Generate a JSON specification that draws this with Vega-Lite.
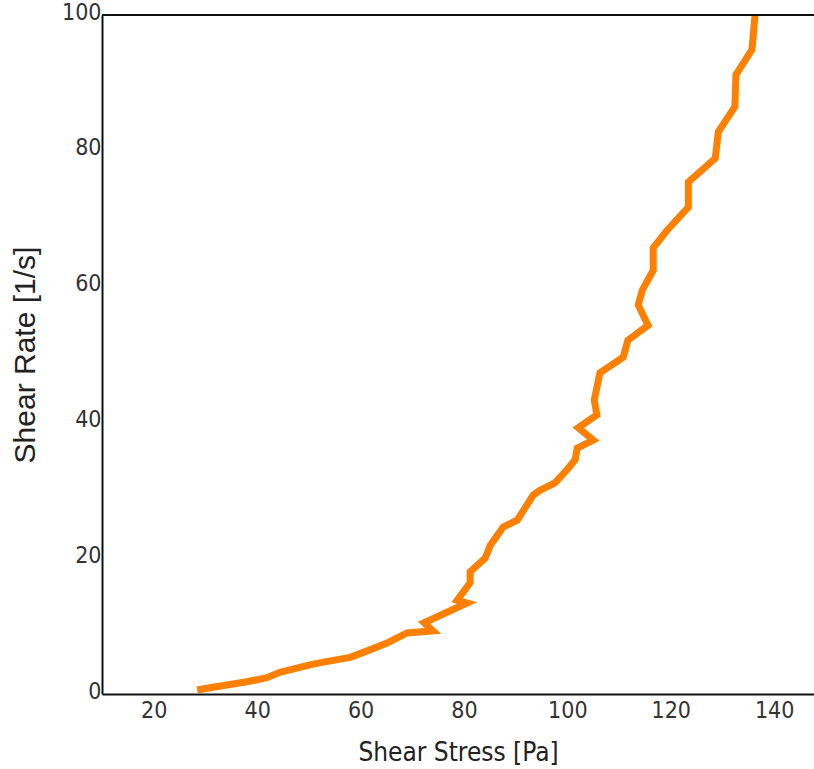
{
  "$schema": "https://vega.github.io/schema/vega-lite/v6.json",
  "autosize": "none",
  "width": 712,
  "height": 679,
  "padding": {"left": 102, "top": 15, "right": 0, "bottom": 75},
  "background": "white",
  "config": {"view": {"stroke": null}},
  "data": {"values": [
    {"i": 1, "stress": 28.4, "rate": 0.6},
    {"i": 2, "stress": 31.5, "rate": 1.0},
    {"i": 3, "stress": 38.0, "rate": 1.8},
    {"i": 4, "stress": 41.9, "rate": 2.4},
    {"i": 5, "stress": 44.4, "rate": 3.2},
    {"i": 6, "stress": 50.2, "rate": 4.3},
    {"i": 7, "stress": 52.8, "rate": 4.7},
    {"i": 8, "stress": 58.0, "rate": 5.4},
    {"i": 9, "stress": 61.8, "rate": 6.5},
    {"i": 10, "stress": 65.1, "rate": 7.5},
    {"i": 11, "stress": 69.0, "rate": 9.0},
    {"i": 12, "stress": 74.0, "rate": 9.3},
    {"i": 13, "stress": 72.3, "rate": 10.5},
    {"i": 14, "stress": 80.6, "rate": 13.4},
    {"i": 15, "stress": 78.7, "rate": 13.8},
    {"i": 16, "stress": 81.2, "rate": 16.4},
    {"i": 17, "stress": 81.2, "rate": 18.0},
    {"i": 18, "stress": 84.1, "rate": 20.0},
    {"i": 19, "stress": 85.1, "rate": 21.9},
    {"i": 20, "stress": 87.6, "rate": 24.6},
    {"i": 21, "stress": 90.3, "rate": 25.6},
    {"i": 22, "stress": 93.4, "rate": 29.3},
    {"i": 23, "stress": 94.7, "rate": 30.0},
    {"i": 24, "stress": 97.6, "rate": 31.1},
    {"i": 25, "stress": 99.9, "rate": 33.0},
    {"i": 26, "stress": 101.5, "rate": 34.5},
    {"i": 27, "stress": 101.9, "rate": 36.2},
    {"i": 28, "stress": 105.0, "rate": 37.4},
    {"i": 29, "stress": 102.1, "rate": 39.2},
    {"i": 30, "stress": 105.7, "rate": 41.1},
    {"i": 31, "stress": 105.2, "rate": 43.3},
    {"i": 32, "stress": 106.3, "rate": 47.3},
    {"i": 33, "stress": 110.8, "rate": 49.6},
    {"i": 34, "stress": 111.7, "rate": 52.1},
    {"i": 35, "stress": 115.6, "rate": 54.3},
    {"i": 36, "stress": 113.7, "rate": 57.3},
    {"i": 37, "stress": 114.5, "rate": 59.5},
    {"i": 38, "stress": 116.6, "rate": 62.4},
    {"i": 39, "stress": 116.6, "rate": 65.7},
    {"i": 40, "stress": 119.3, "rate": 68.3},
    {"i": 41, "stress": 123.4, "rate": 71.7},
    {"i": 42, "stress": 123.4, "rate": 75.4},
    {"i": 43, "stress": 128.6, "rate": 78.9},
    {"i": 44, "stress": 129.2, "rate": 82.8},
    {"i": 45, "stress": 132.4, "rate": 86.5},
    {"i": 46, "stress": 132.6, "rate": 91.2},
    {"i": 47, "stress": 135.7, "rate": 94.9},
    {"i": 48, "stress": 136.3, "rate": 100.0}
  ]},
  "layer": [
    {
      "mark": {"type": "line", "color": "#ff8000", "strokeWidth": 7, "clip": true},
      "encoding": {
        "x": {
          "field": "stress", "type": "quantitative",
          "scale": {"domain": [10, 147.7], "nice": false, "zero": false},
          "axis": {
            "title": "Shear Stress [Pa]",
            "values": [20, 40, 60, 80, 100, 120, 140],
            "grid": false, "ticks": false, "labelFlush": false,
            "domainColor": "#111", "domainWidth": 2,
            "labelFont": "Liberation Sans Narrow, DejaVu Sans Condensed, sans-serif",
            "labelFontSize": 23, "labelColor": "#333", "labelPadding": 5,
            "titleFont": "Liberation Sans Narrow, DejaVu Sans Condensed, sans-serif",
            "titleFontSize": 26, "titleFontWeight": "normal", "titleColor": "#222",
            "titleY": 66, "titleBaseline": "alphabetic"
          }
        },
        "y": {
          "field": "rate", "type": "quantitative",
          "scale": {"domain": [0, 100], "nice": false},
          "axis": {
            "title": "Shear Rate [1/s]",
            "values": [0, 20, 40, 60, 80, 100],
            "grid": false, "ticks": false,
            "domainColor": "#111", "domainWidth": 2,
            "labelFont": "Liberation Sans Narrow, DejaVu Sans Condensed, sans-serif",
            "labelFontSize": 23, "labelColor": "#333", "labelPadding": 1,
            "labelOffset": -3,
            "titleFont": "Liberation Sans, Arial, sans-serif",
            "titleFontSize": 30, "titleFontWeight": "normal", "titleColor": "#222",
            "titlePadding": 21
          }
        },
        "order": {"field": "i", "type": "quantitative"}
      }
    },
    {
      "mark": {"type": "rule", "color": "#111", "strokeWidth": 2},
      "encoding": {"y": {"datum": 100}}
    }
  ]
}
